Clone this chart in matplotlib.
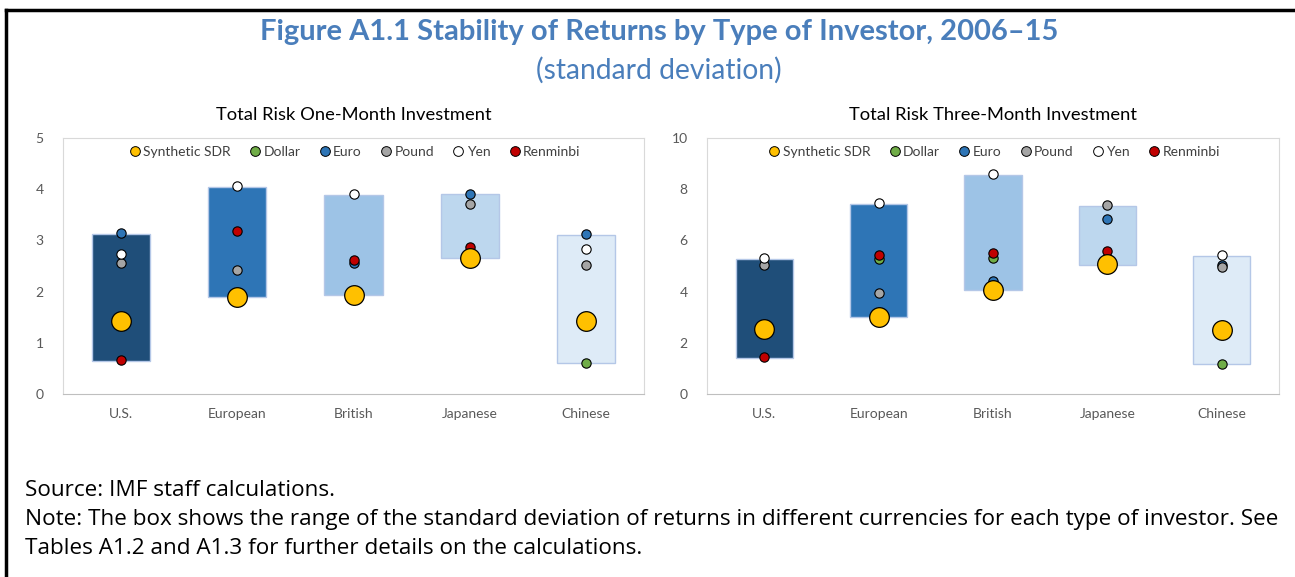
import matplotlib
import numpy as np
matplotlib.use('Agg')
import matplotlib.pyplot as plt
from matplotlib.lines import Line2D

nan = np.nan
categories = ['U.S.', 'European', 'British', 'Japanese', 'Chinese']
currencies = ['Synthetic SDR', 'Dollar', 'Euro', 'Pound', 'Yen', 'Renminbi']

# one-month investment
box_low_1m = [0.65, 1.89, 1.93, 2.65, 0.61]
box_high_1m = [3.13, 4.05, 3.88, 3.90, 3.10]
sdr_1m = [1.43, 1.90, 1.94, 2.66, 1.43]
dollar_1m = [nan, nan, nan, nan, 0.61]
euro_1m = [3.15, nan, 2.56, 3.91, 3.12]
pound_1m = [2.56, 2.43, nan, 3.71, 2.51]
yen_1m = [2.74, 4.06, 3.90, nan, 2.84]
renminbi_1m = [0.66, 3.18, 2.61, 2.88, nan]

# three-month investment
box_low_3m = [1.42, 3.02, 4.07, 5.05, 1.17]
box_high_3m = [5.27, 7.42, 8.57, 7.35, 5.40]
sdr_3m = [2.53, 3.02, 4.08, 5.06, 2.49]
dollar_3m = [nan, 5.28, 5.33, nan, 1.19]
euro_3m = [nan, nan, 4.42, 6.83, 5.03]
pound_3m = [5.03, 3.95, nan, 7.38, 4.97]
yen_3m = [5.33, 7.46, 8.60, nan, 5.44]
renminbi_3m = [1.45, 5.44, 5.51, 5.59, nan]

box_colors = ['#1F4E79', '#2E75B6', '#9DC3E6', '#BDD7EE', '#DEEBF7']
dot_colors = {'Synthetic SDR': '#FFC000', 'Dollar': '#70AD47', 'Euro': '#2E75B6',
              'Pound': '#A5A5A5', 'Yen': '#FFFFFF', 'Renminbi': '#C00000'}

plt.rcParams['font.family'] = ['Lato', 'DejaVu Sans']

fig = plt.figure(figsize=(12.95, 5.77), dpi=100)
W, H = 1295, 577


def draw_panel(ax, low, high, series, ymax, step, title):
    x = np.arange(len(categories))
    heights = np.array(high) - np.array(low)
    ax.bar(x, heights, bottom=low, width=0.5, color=box_colors,
           edgecolor='#B4C7E7', linewidth=1, zorder=2)
    # small dots first, SDR on top
    for name in ['Dollar', 'Euro', 'Pound', 'Yen', 'Renminbi']:
        ax.scatter(x, series[name], s=45, color=dot_colors[name],
                   edgecolor='black', linewidth=0.8, zorder=3)
    ax.scatter(x, series['Synthetic SDR'], s=200, color=dot_colors['Synthetic SDR'],
               edgecolor='black', linewidth=0.9, zorder=4)
    ax.set_xlim(-0.5, len(categories) - 0.5)
    ax.set_ylim(0, ymax)
    ax.set_yticks(np.arange(0, ymax + 0.01, step))
    ax.set_xticks(x)
    ax.set_xticklabels(categories)
    ax.tick_params(length=0, labelsize=10, labelcolor='#595959')
    ax.tick_params(axis='x', pad=10)
    ax.tick_params(axis='y', pad=14)
    for s in ['top', 'right', 'left']:
        ax.spines[s].set_color('#D9D9D9')
    ax.spines['bottom'].set_color('#BFBFBF')
    handles = [Line2D([], [], marker='o', linestyle='', markersize=7,
                      markerfacecolor=dot_colors[c], markeredgecolor='black',
                      markeredgewidth=0.7, label=c) for c in currencies]
    ax.legend(handles=handles, loc='upper center', ncol=6, frameon=False,
              fontsize=10, handletextpad=0.0, columnspacing=1.15,
              handlelength=1.2, borderaxespad=0.2, labelcolor='#404040')
    ax.set_title(title, fontsize=13.2, pad=13)


ax1 = fig.add_axes([63 / W, 1 - 394 / H, 581 / W, 256 / H])
draw_panel(ax1, box_low_1m, box_high_1m,
           {'Synthetic SDR': sdr_1m, 'Dollar': dollar_1m, 'Euro': euro_1m,
            'Pound': pound_1m, 'Yen': yen_1m, 'Renminbi': renminbi_1m},
           5, 1, 'Total Risk One-Month Investment')

ax2 = fig.add_axes([707 / W, 1 - 394 / H, 572 / W, 256 / H])
draw_panel(ax2, box_low_3m, box_high_3m,
           {'Synthetic SDR': sdr_3m, 'Dollar': dollar_3m, 'Euro': euro_3m,
            'Pound': pound_3m, 'Yen': yen_3m, 'Renminbi': renminbi_3m},
           10, 2, 'Total Risk Three-Month Investment')

# outer frame (top and left edges)
fig.add_artist(Line2D([6 / W, 1], [1 - 10 / H, 1 - 10 / H], color='black', linewidth=2.5))
fig.add_artist(Line2D([6 / W, 6 / W], [0, 1 - 10 / H], color='black', linewidth=2.5))

fig.text(659 / W, 1 - 32 / H, 'Figure A1.1 Stability of Returns by Type of Investor, 2006\u201315',
         ha='center', va='center', fontsize=21, fontweight='bold', color='#4A7EBB')
fig.text(659 / W, 1 - 70 / H, '(standard deviation)', ha='center', va='center',
         fontsize=20.3, color='#4A7EBB')

note_font = ['Open Sans', 'DejaVu Sans']
fig.text(25 / W, 1 - 490 / H, 'Source: IMF staff calculations.', ha='left', va='center',
         fontsize=16.2, family=note_font)
fig.text(25 / W, 1 - 519 / H, 'Note: The box shows the range of the standard deviation of returns in '
         'different currencies for each type of investor. See', ha='left', va='center',
         fontsize=16.2, family=note_font)
fig.text(25 / W, 1 - 549 / H, 'Tables A1.2 and A1.3 for further details on the calculations.',
         ha='left', va='center', fontsize=16.2, family=note_font)

fig.savefig('out.png', dpi=100)
plt.close(fig)
